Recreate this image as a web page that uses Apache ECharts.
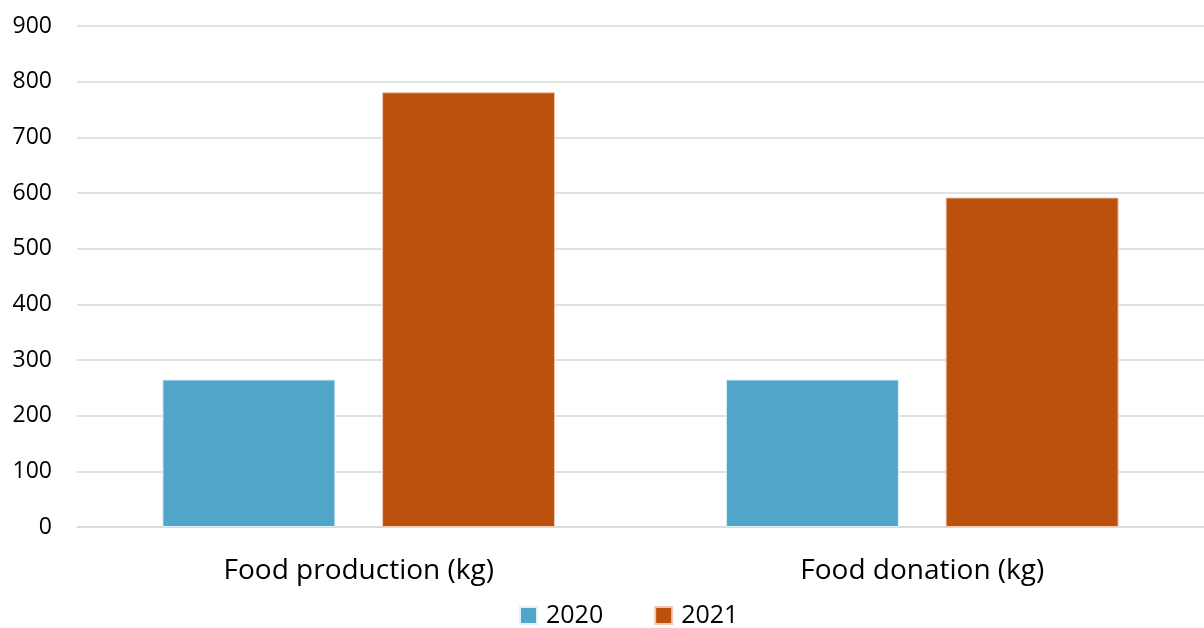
<!DOCTYPE html>
<html>
<head>
<meta charset="utf-8">
<script src="https://cdn.jsdelivr.net/npm/echarts@6/dist/echarts.min.js"></script>
<style>
  html, body { margin: 0; padding: 0; background: #fff; }
  #main { width: 1204px; height: 628px; }
</style>
</head>
<body>
<div id="main"></div>
<script>
const categories = ["Food production (kg)", "Food donation (kg)"];
const seriesNames = ["2020", "2021"];
const values2020 = [265, 265];
const values2021 = [781, 592];

const chart = echarts.init(document.getElementById("main"));
const font = "'Open Sans', 'Liberation Sans', sans-serif";

const option = {
  backgroundColor: "#fff",
  animation: false,
  color: ["#51A5C8", "#BC500D"],
  grid: {
    left: 77,
    right: 0,
    top: 26,
    bottom: 101,
    containLabel: false
  },
  legend: {
    data: seriesNames,
    top: 598,
    left: 514,
    icon: "rect",
    itemWidth: 17,
    itemHeight: 17,
    itemGap: 51,
    textStyle: {
      color: "#000",
      fontSize: 25,
      fontFamily: font,
      padding: [0, 0, 0, 4]
    }
  },
  xAxis: {
    type: "category",
    data: categories,
    axisTick: { show: false },
    axisLine: {
      lineStyle: { color: "#d9d9d9", width: 1.5 }
    },
    axisLabel: {
      color: "#000",
      fontSize: 28,
      fontFamily: font,
      margin: 30
    }
  },
  yAxis: {
    type: "value",
    min: 0,
    max: 900,
    interval: 100,
    axisLine: { show: false },
    axisTick: { show: false },
    axisLabel: {
      color: "#000",
      fontSize: 23,
      fontFamily: font,
      margin: 25
    },
    splitLine: {
      lineStyle: { color: "#d9d9d9", width: 1.5 }
    }
  },
  series: [
    {
      name: seriesNames[0],
      type: "bar",
      data: values2020,
      barWidth: 173,
      barGap: "27%",
      itemStyle: { borderColor: "#dff0f7", borderWidth: 1 }
    },
    {
      name: seriesNames[1],
      type: "bar",
      data: values2021,
      barWidth: 173,
      barGap: "27%",
      itemStyle: { borderColor: "#f0c9b0", borderWidth: 1 }
    }
  ]
};

chart.setOption(option);
</script>
</body>
</html>
